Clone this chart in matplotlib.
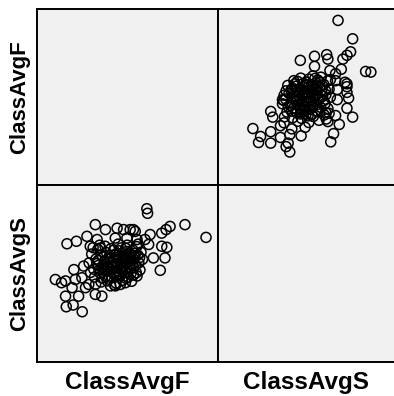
"""Scatterplot matrix of ClassAvgF vs ClassAvgS."""

import matplotlib

matplotlib.use("Agg")
import matplotlib.pyplot as plt  # noqa: E402

plt.rcParams["font.family"] = ["Liberation Sans", "DejaVu Sans"]

variables = ["ClassAvgF", "ClassAvgS"]

# outer points
outer_f = [80.4, 80.6, 90.9, 96.7, 86.8, 85.7, 84.5, 81.3, 79.9, 76.7, 80.9, 84.5, 85.9,
           82.2, 85.4, 84.1, 77.7, 58.4, 61.0, 63.9, 66.2, 69.0, 66.7, 72.2, 74.0, 75.8,
           77.2, 71.7, 74.9, 64.8, 67.6, 55.2, 58.0, 60.3, 63.0, 62.5, 60.7, 59.8, 63.5,
           58.0, 61.6, 58.2, 60.1, 62.6, 66.2, 68.0, 71.7, 74.5, 77.7, 56.9, 64.4]
outer_s = [93.3, 92.0, 88.8, 85.2, 88.3, 87.4, 86.4, 86.0, 84.6, 87.4, 83.2, 82.7, 82.4,
           79.4, 79.4, 75.9, 84.6, 83.4, 84.1, 85.5, 88.8, 87.4, 84.6, 87.8, 87.4, 87.4,
           86.9, 85.0, 85.0, 82.7, 82.2, 73.3, 72.9, 76.1, 77.1, 73.8, 73.3, 71.0, 71.0,
           68.6, 68.6, 65.6, 66.1, 64.2, 69.1, 68.6, 71.5, 72.4, 74.3, 72.4, 71.9]

# dense core (estimated, overlapping circles)
core_f = [64.5, 65.2, 65.8, 66.0, 66.4, 66.9, 67.1, 67.5, 67.8, 68.2, 68.4, 68.7, 69.0,
          69.3, 69.5, 69.8, 70.0, 70.2, 70.5, 70.7, 71.0, 71.2, 71.4, 71.7, 71.9, 72.1,
          72.3, 72.6, 72.8, 73.0, 73.2, 73.5, 73.7, 73.9, 74.2, 74.4, 74.6, 74.9, 75.1,
          75.3, 75.6, 75.8, 76.0, 76.3, 76.5, 76.8, 77.0, 77.3, 77.6, 77.9, 78.2, 78.5,
          78.8, 66.3, 67.4, 68.9, 70.4, 72.5, 75.0, 76.2, 64.9, 65.6, 79.2, 70.9, 72.0,
          73.3, 69.1, 67.9, 74.7, 71.5, 68.1, 73.8, 75.5, 70.3, 72.7, 69.6, 76.7, 77.5,
          66.6, 74.0, 71.3, 73.1, 67.2, 78.0, 76.0,
          68.6, 70.8, 72.4, 74.3, 76.4, 69.4, 71.6, 73.4, 75.2, 77.2, 70.1, 72.9, 74.8,
          67.0, 78.4, 69.9, 71.8, 73.6, 75.7, 68.0]
core_s = [78.0, 80.5, 76.2, 74.0, 79.1, 81.8, 77.3, 75.1, 72.6, 79.8, 76.0, 78.4, 74.2,
          80.9, 72.9, 77.0, 75.6, 79.3, 82.0, 73.8, 76.8, 78.6, 74.9, 80.3, 72.3, 77.7,
          75.8, 79.6, 81.4, 74.4, 76.5, 78.1, 73.1, 80.0, 77.2, 75.3, 82.1, 79.0, 76.1,
          74.0, 80.8, 77.9, 75.0, 78.8, 81.7, 76.6, 79.7, 77.4, 82.6, 80.2, 78.0, 76.0,
          81.0, 72.0, 83.0, 82.7, 71.5, 83.3, 83.0, 72.8, 75.3, 82.3, 79.0, 78.0, 80.6,
          82.2, 75.8, 80.2, 73.6, 71.8, 73.7, 79.3, 78.4, 76.4, 74.9, 79.0, 74.6, 75.2,
          77.8, 76.9, 81.6, 71.9, 75.9, 83.3, 80.1,
          77.0, 77.4, 78.9, 78.3, 77.5, 76.9, 75.2, 77.8, 79.6, 80.7, 80.0, 76.3, 81.2,
          78.7, 79.5, 73.4, 74.3, 75.7, 76.8, 76.8]

class_avg_f = outer_f + core_f
class_avg_s = outer_s + core_s

# axis ranges differ per panel in the original
lim_bl = {"x": (50, 100), "y": (50, 100)}
lim_tr = {"x": (55.6, 99.0), "y": (44.8, 100.3)}

W, H = 394, 396
x0, xm, x1 = 36.5 / W, 218 / W, 1.0
y0, ym, y1 = 1 - 362 / H, 1 - 185 / H, 1 - 9 / H

fig = plt.figure(figsize=(W / 100, H / 100), dpi=100)


def make_ax(rect, hide_right=False):
    ax = fig.add_axes(rect)
    ax.set_facecolor("#f0f0f0")
    ax.set_xticks([])
    ax.set_yticks([])
    for sp in ax.spines.values():
        sp.set_linewidth(1.4)
        sp.set_color("black")
    if hide_right:
        ax.spines["right"].set_visible(False)
    return ax


ax_tl = make_ax([x0, ym, xm - x0, y1 - ym])
ax_tr = make_ax([xm, ym, x1 - xm, y1 - ym], hide_right=True)
ax_bl = make_ax([x0, y0, xm - x0, ym - y0])
ax_br = make_ax([xm, y0, x1 - xm, ym - y0], hide_right=True)

style = dict(s=52, facecolors="none", edgecolors="black", linewidths=1.1)
ax_bl.scatter(class_avg_f, class_avg_s, **style)
ax_bl.set_xlim(*lim_bl["x"])
ax_bl.set_ylim(*lim_bl["y"])

ax_tr.scatter(class_avg_s, class_avg_f, **style)
ax_tr.set_xlim(*lim_tr["x"])
ax_tr.set_ylim(*lim_tr["y"])

for ax in (ax_tl, ax_br):
    ax.set_xlim(0, 1)
    ax.set_ylim(0, 1)

fig.text((x0 + xm) / 2, 1 - 383 / H, variables[0], ha="center", va="center",
         fontsize=17.5, fontweight="bold")
fig.text((xm + x1) / 2, 1 - 383 / H, variables[1], ha="center", va="center",
         fontsize=17.5, fontweight="bold")
fig.text(20 / W, (ym + y1) / 2, variables[0], ha="center", va="center",
         rotation=90, fontsize=16, fontweight="bold")
fig.text(20 / W, (y0 + ym) / 2, variables[1], ha="center", va="center",
         rotation=90, fontsize=16, fontweight="bold")

fig.savefig("out.png", dpi=100, facecolor="white")
